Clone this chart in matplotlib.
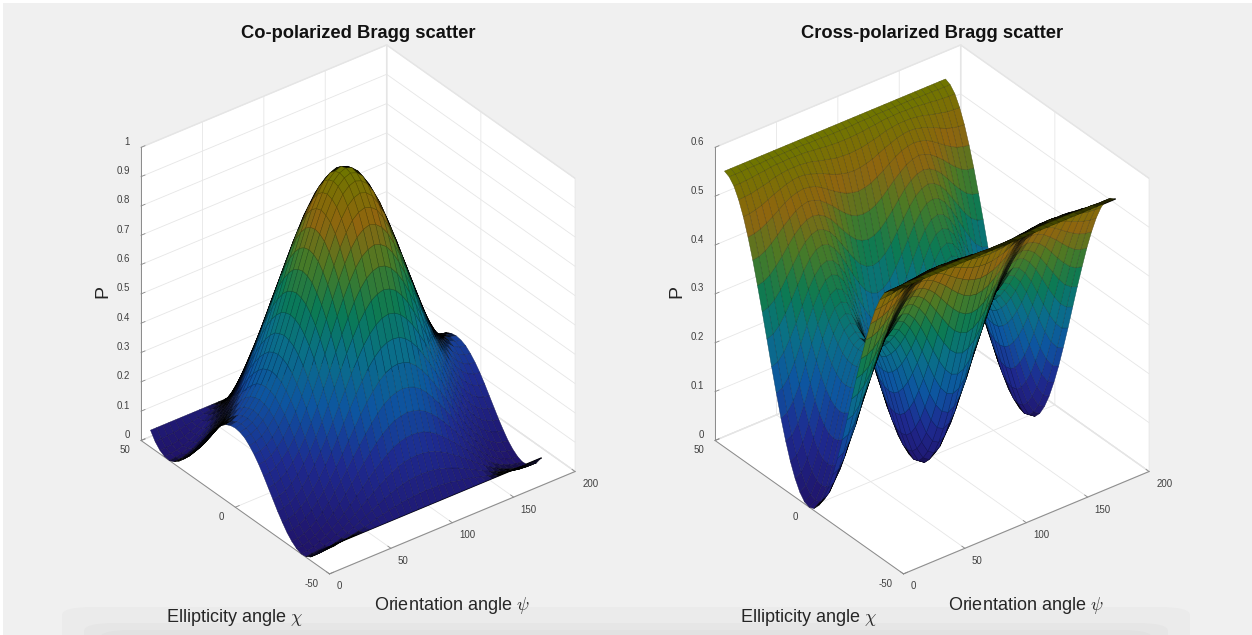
import numpy as np
import matplotlib
matplotlib.use('Agg')
import matplotlib.pyplot as plt
from matplotlib.colors import LinearSegmentedColormap
from matplotlib.patches import Rectangle, FancyBboxPatch
from mpl_toolkits.mplot3d import proj3d

# values (quarter tables; surfaces are symmetric in psi about 90 and chi about 0)
psi_half = [0, 5, 10, 15, 20, 25, 30, 35, 40, 45, 50, 55, 60, 65, 70, 75, 80, 85, 90]
chi_half = [0, 2.5, 5, 7.5, 10, 12.5, 15, 17.5, 20, 22.5, 25, 27.5, 30, 32.5, 35, 37.5, 40, 42.5, 45]
co_half = [
    [.270, .275, .285, .305, .332, .367, .410, .460, .516, .578, .643, .709, .774, .835, .891, .937, .972, .992, 1.00],
    [.267, .271, .282, .301, .328, .364, .406, .456, .511, .573, .638, .704, .769, .830, .885, .931, .966, .986, .994],
    [.259, .263, .274, .293, .320, .355, .397, .446, .502, .563, .627, .692, .756, .816, .871, .916, .951, .970, .978],
    [.244, .248, .258, .278, .305, .338, .380, .428, .483, .543, .606, .669, .732, .791, .845, .888, .922, .941, .949],
    [.225, .228, .239, .258, .284, .318, .358, .405, .458, .517, .578, .640, .701, .757, .809, .852, .885, .903, .910],
    [.202, .205, .215, .234, .259, .292, .332, .377, .429, .485, .544, .603, .662, .717, .766, .808, .838, .856, .863],
    [.175, .178, .188, .207, .231, .263, .300, .345, .393, .447, .504, .561, .616, .668, .715, .754, .783, .799, .806],
    [.146, .150, .159, .176, .200, .230, .266, .309, .354, .406, .459, .513, .565, .613, .658, .694, .721, .737, .743],
    [.117, .121, .130, .146, .168, .197, .231, .271, .315, .363, .412, .462, .511, .556, .597, .630, .656, .670, .676],
    [.088, .092, .100, .115, .137, .164, .196, .233, .273, .317, .363, .408, .454, .494, .532, .562, .585, .599, .604],
    [.062, .065, .073, .088, .107, .132, .161, .196, .233, .273, .315, .356, .396, .433, .467, .494, .515, .527, .531],
    [.038, .041, .049, .062, .080, .103, .129, .159, .193, .229, .266, .302, .338, .371, .400, .425, .443, .453, .457],
    [.020, .022, .029, .041, .056, .076, .100, .127, .156, .187, .220, .251, .282, .310, .336, .357, .372, .380, .384],
    [.007, .008, .015, .025, .039, .056, .076, .099, .124, .150, .178, .204, .230, .254, .275, .292, .305, .311, .315],
    [.000, .002, .007, .016, .027, .041, .058, .077, .097, .119, .140, .162, .182, .201, .218, .232, .242, .248, .250],
    [.002, .004, .007, .013, .022, .034, .046, .061, .076, .093, .109, .126, .140, .155, .167, .178, .185, .189, .191],
    [.012, .013, .015, .020, .026, .033, .042, .052, .062, .073, .084, .095, .106, .115, .123, .130, .135, .137, .138],
    [.030, .031, .033, .034, .038, .042, .046, .051, .056, .061, .068, .073, .078, .082, .087, .089, .092, .093, .094],
    [.058, .058, .058, .058, .058, .058, .058, .058, .058, .058, .058, .058, .058, .058, .058, .058, .058, .058, .058],
]
cross_half = [
    [.000, .009, .034, .073, .120, .170, .218, .256, .281, .290, .281, .256, .218, .170, .120, .073, .034, .009, .000],
    [.004, .013, .038, .076, .123, .173, .220, .258, .283, .292, .283, .258, .220, .173, .123, .076, .038, .013, .004],
    [.017, .026, .050, .087, .133, .182, .228, .265, .290, .298, .290, .265, .228, .182, .133, .087, .050, .026, .017],
    [.038, .046, .070, .106, .150, .197, .241, .277, .300, .309, .300, .277, .241, .197, .150, .106, .070, .046, .038],
    [.066, .074, .096, .130, .172, .216, .258, .292, .314, .322, .314, .292, .258, .216, .172, .130, .096, .074, .066],
    [.101, .108, .129, .161, .200, .241, .280, .311, .332, .339, .332, .311, .280, .241, .200, .161, .129, .108, .101],
    [.141, .148, .167, .195, .231, .269, .304, .333, .352, .359, .352, .333, .304, .269, .231, .195, .167, .148, .141],
    [.186, .192, .209, .235, .267, .300, .332, .358, .375, .381, .375, .358, .332, .300, .267, .235, .209, .192, .186],
    [.233, .238, .253, .276, .303, .333, .361, .383, .398, .403, .398, .383, .361, .333, .303, .276, .253, .238, .233],
    [.283, .288, .300, .320, .343, .368, .392, .411, .424, .428, .424, .411, .392, .368, .343, .320, .300, .288, .283],
    [.332, .336, .346, .362, .382, .402, .422, .438, .448, .452, .448, .438, .422, .402, .382, .362, .346, .336, .332],
    [.379, .382, .390, .403, .418, .435, .451, .463, .471, .474, .471, .463, .451, .435, .418, .403, .390, .382, .379],
    [.424, .426, .432, .442, .454, .467, .478, .488, .494, .497, .494, .488, .478, .467, .454, .442, .432, .426, .424],
    [.464, .466, .470, .477, .485, .494, .503, .510, .514, .516, .514, .510, .503, .494, .485, .477, .470, .466, .464],
    [.499, .500, .503, .507, .513, .519, .524, .529, .532, .533, .532, .529, .524, .519, .513, .507, .503, .500, .499],
    [.527, .528, .529, .532, .535, .538, .542, .544, .546, .546, .546, .544, .542, .538, .535, .532, .529, .528, .527],
    [.548, .548, .549, .550, .552, .553, .555, .556, .556, .557, .556, .556, .555, .553, .552, .550, .549, .548, .548],
    [.560, .560, .560, .561, .561, .561, .562, .562, .562, .562, .562, .562, .562, .561, .561, .561, .560, .560, .560],
    [.565, .565, .565, .565, .565, .565, .565, .565, .565, .565, .565, .565, .565, .565, .565, .565, .565, .565, .565],
]
titles = ['Co-polarized Bragg scatter', 'Cross-polarized Bragg scatter']
xticks = [0, 50, 100, 150, 200]
yticks = [-50, 0, 50]
zticks_co = [0, .1, .2, .3, .4, .5, .6, .7, .8, .9, 1]
zticks_cross = [0, .1, .2, .3, .4, .5, .6]
zlims = [1, 0.6]

def full(table):
    t = np.array(table)
    t = np.hstack([t, t[:, -2::-1]])
    return np.vstack([t[:0:-1], t])

psi = np.r_[psi_half, 180 - np.array(psi_half[-2::-1])]
chi = np.r_[-np.array(chi_half[:0:-1]), chi_half]
PSI, CHI = np.meshgrid(psi, chi)

cmap = LinearSegmentedColormap.from_list('dark_parula', [
    (0.00, '#20146a'), (0.20, '#1e2a90'), (0.35, '#0d55a0'), (0.50, '#0a7088'),
    (0.62, '#0a7a55'), (0.75, '#4a7a25'), (0.87, '#90650f'), (1.00, '#6f7500')])

W, H = 1252, 635
plt.rcParams['font.family'] = ['Liberation Sans', 'DejaVu Sans']
plt.rcParams['mathtext.fontset'] = 'cm'
plt.rcParams['axes.unicode_minus'] = False
fig = plt.figure(figsize=(W / 100, H / 100), dpi=100, facecolor='white')

def px(x, y, w, h, **kw):
    return Rectangle((x / W, 1 - (y + h) / H), w / W, h / H, transform=fig.transFigure, zorder=-3, **kw)

fig.patches.append(px(3, 3, W - 3, H - 3, fc='#f0f0f0', ec='none'))
for k, (inset, top, col) in enumerate([(62, 607, '#ebebeb'), (84, 623, '#e6e6e6'), (100, 630, '#e2e2e2')]):
    fig.patches.append(FancyBboxPatch((inset / W, -0.1), 1 - 2 * inset / W, 0.1 + (H - top) / H,
                                      boxstyle='round,pad=0,rounding_size=0.025', mutation_aspect=H / W,
                                      transform=fig.transFigure, fc=col, ec='none', zorder=-2 + k * .1))

ELEV, AZIM = 32.9, -127.5
ZBOX = 1.128

def facet_colors(Z, zmax):
    """Colour by height; facets seen nearly edge-on go dark, as the dense mesh does in the picture."""
    Zc = (Z[:-1, :-1] + Z[1:, :-1] + Z[:-1, 1:] + Z[1:, 1:]) / 4 / Z.max()
    col = cmap(Zc)
    xb, yb, zb = PSI / 200, (CHI + 50) / 100, Z / zmax * ZBOX
    d1 = np.stack([xb[1:, 1:] - xb[:-1, :-1], yb[1:, 1:] - yb[:-1, :-1], zb[1:, 1:] - zb[:-1, :-1]], -1)
    d2 = np.stack([xb[1:, :-1] - xb[:-1, 1:], yb[1:, :-1] - yb[:-1, 1:], zb[1:, :-1] - zb[:-1, 1:]], -1)
    n = np.cross(d1, d2) / 2
    e, a = np.radians(ELEV), np.radians(AZIM)
    view = np.array([np.cos(a) * np.cos(e), np.sin(a) * np.cos(e), np.sin(e)])
    area = np.abs(n @ view)
    g = np.clip((area - 0.00012) / 0.00021, 0, 1)
    col[..., :3] *= g[..., None]
    return col

AX = 560
for i, (table, zt) in enumerate([(co_half, zticks_co), (cross_half, zticks_cross)]):
    Z = full(table)
    zmax = zlims[i]
    left = 70.5 + 574 * i
    ax = fig.add_axes([left / W, 38 / H, AX / W, AX / H], projection='3d', proj_type='ortho')
    ax.patch.set_visible(False)
    ax.set_xlim(0, 200); ax.set_ylim(-50, 50); ax.set_zlim(0, zmax)
    ax.set_box_aspect((1, 1, ZBOX), zoom=0.9707)
    ax.view_init(elev=ELEV, azim=AZIM)
    fc = facet_colors(Z, zmax)
    surf = ax.plot_surface(PSI, CHI, Z, facecolors=fc, rstride=1, cstride=1, shade=False, linewidth=0.3)
    ec = fc.reshape(-1, 4).copy()
    ec[:, :3] *= 0.65
    surf.set_edgecolor(ec)
    ax.plot(psi, chi[0] * np.ones_like(psi), Z[0], color='black', lw=1.0)
    ax.set_xticks(xticks); ax.set_yticks(yticks); ax.set_zticks(zt)
    for a in (ax.xaxis, ax.yaxis, ax.zaxis):
        a.set_pane_color((1, 1, 1, 1))
        a.pane.set_edgecolor('#e4e4e4')
        a.line.set_color('#8a8a8a'); a.line.set_linewidth(0.7)
        a._axinfo['grid'].update(color='#e6e6e6', linewidth=0.6)
        a._axinfo['tick'].update(inward_factor=0.0, outward_factor=0.2, linewidth={True: .6, False: .6})
    ax.tick_params(colors='#8a8a8a', width=.6)
    ax.zaxis.set_ticks_position('upper')
    for a in (ax.xaxis, ax.yaxis, ax.zaxis):
        a.set_tick_params(label1On=False, label2On=False)

    proj = ax.get_proj()
    def tick_label(xv, yv, zv, text, offset, ha):
        x2, y2, _ = proj3d.proj_transform(xv, yv, zv, proj)
        ax.annotate(text, (x2, y2), xytext=offset, textcoords='offset pixels', ha=ha, va='center',
                    color='#404040', fontsize=7, annotation_clip=False)
    for v in xticks:
        tick_label(v, -50, 0, '%g' % v, (7, -12.5), 'left')
    for v in yticks:
        tick_label(0, v, 0, '%g' % v, (-11, -10), 'right')
    for v in zt:
        tick_label(0, 50, v, '%g' % v, (-11, 5.5), 'right')

    fig.text((358 + 574 * i) / W, 1 - 33.5 / H, titles[i], ha='center', va='center',
             fontsize=13.2, fontweight='bold', color='#111111')
    fig.text((452 + 574 * i) / W, 1 - 605 / H, r'Orientation angle $\psi$', ha='center', va='center',
             fontsize=13, color='#262626')
    fig.text((234 + 574 * i) / W, 1 - 617 / H, r'Ellipticity angle $\chi$', ha='center', va='center',
             fontsize=13, color='#262626')
    fig.text((103 + 574 * i) / W, 1 - 291 / H, 'P', ha='center', va='center', rotation=90,
             fontsize=14, color='#262626')

fig.savefig('out.png', dpi=100, facecolor=fig.get_facecolor())
